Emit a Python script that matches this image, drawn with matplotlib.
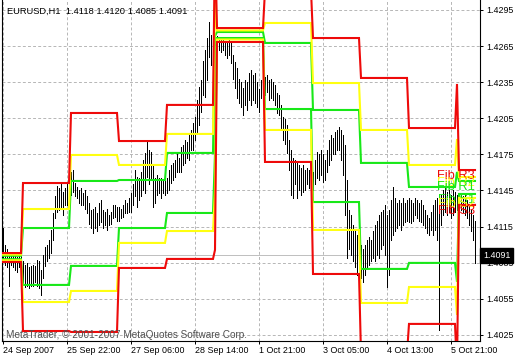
import numpy as np
import matplotlib
matplotlib.use("Agg")
import matplotlib.pyplot as plt
import matplotlib.transforms as mtransforms

plt.rcParams["font.family"] = ["Liberation Sans", "DejaVu Sans"]

# EURUSD H1 bars, first bar 24 Sep 2007 14:00 (highs / lows)
bar_high = [
    1.4114, 1.4100, 1.4096, 1.4091, 1.4091, 1.4091, 1.4091, 1.4090, 1.4091, 1.4091,
    1.4086, 1.4083, 1.4085, 1.4081, 1.4082, 1.4083, 1.4082, 1.4087, 1.4086, 1.4079, 1.4091, 1.4098,
    1.4100, 1.4104, 1.4112, 1.4126, 1.4140, 1.4149, 1.4147, 1.4150, 1.4144, 1.4147, 1.4150, 1.4154,
    1.4160, 1.4162, 1.4151, 1.4148, 1.4145, 1.4147, 1.4143, 1.4145, 1.4140, 1.4135, 1.4129, 1.4130,
    1.4131, 1.4126, 1.4135, 1.4137, 1.4129, 1.4127, 1.4130, 1.4125, 1.4127, 1.4133, 1.4133, 1.4131,
    1.4131, 1.4130, 1.4133, 1.4137, 1.4135, 1.4139, 1.4143, 1.4150, 1.4162, 1.4156, 1.4155, 1.4160,
    1.4170, 1.4176, 1.4187, 1.4179, 1.4177, 1.4166, 1.4155, 1.4158, 1.4155, 1.4155, 1.4154, 1.4154,
    1.4155, 1.4162, 1.4166, 1.4168, 1.4170, 1.4176, 1.4172, 1.4181, 1.4183, 1.4187, 1.4185, 1.4193,
    1.4195, 1.4201, 1.4206, 1.4220, 1.4231, 1.4237, 1.4253, 1.4262, 1.4272, 1.4285, 1.4274, 1.4276,
    1.4274,
    1.4273, 1.4272, 1.4270, 1.4272, 1.4268, 1.4268, 1.4270, 1.4268, 1.4258, 1.4252, 1.4247, 1.4238,
    1.4235, 1.4230, 1.4237, 1.4235, 1.4243, 1.4245, 1.4241, 1.4243, 1.4235, 1.4229, 1.4237, 1.4238,
    1.4239, 1.4241, 1.4237, 1.4238, 1.4235, 1.4233, 1.4226, 1.4224, 1.4216, 1.4206, 1.4204, 1.4199,
    1.4187, 1.4179, 1.4172, 1.4170, 1.4168, 1.4166, 1.4164, 1.4166, 1.4162, 1.4164, 1.4162, 1.4158,
    1.4160, 1.4170, 1.4177, 1.4175, 1.4179, 1.4175, 1.4170, 1.4179, 1.4187, 1.4191, 1.4189, 1.4194,
    1.4195, 1.4198, 1.4195, 1.4191, 1.4183, 1.4154, 1.4129, 1.4125, 1.4116, 1.4112, 1.4108, 1.4100,
    1.4100, 1.4096, 1.4100, 1.4104, 1.4106, 1.4104, 1.4111, 1.4116, 1.4120, 1.4125, 1.4127, 1.4129,
    1.4133, 1.4125, 1.4129, 1.4137, 1.4148, 1.4139, 1.4135, 1.4137, 1.4135, 1.4139, 1.4135, 1.4137,
    1.4139, 1.4137, 1.4135, 1.4139, 1.4137, 1.4135, 1.4137, 1.4133, 1.4129, 1.4125, 1.4122, 1.4127,
    1.4133, 1.4137, 1.4139, 1.4137, 1.4141, 1.4145, 1.4147, 1.4144, 1.4145, 1.4141, 1.4145, 1.4144,
    1.4141,
    1.4143, 1.4141, 1.4140, 1.4141, 1.4137, 1.4133, 1.4129, 1.4125, 1.4120,
]
bar_low = [
    1.4086, 1.4083, 1.4081, 1.4066, 1.4083, 1.4081, 1.4079, 1.4077, 1.4081, 1.4075,
    1.4069, 1.4065, 1.4066, 1.4064, 1.4066, 1.4066, 1.4069, 1.4066, 1.4064, 1.4058, 1.4072, 1.4082,
    1.4086, 1.4089, 1.4093, 1.4104, 1.4122, 1.4127, 1.4129, 1.4131, 1.4125, 1.4133, 1.4133, 1.4133,
    1.4141, 1.4144, 1.4140, 1.4139, 1.4135, 1.4133, 1.4133, 1.4130, 1.4126, 1.4117, 1.4114, 1.4110,
    1.4114, 1.4111, 1.4116, 1.4119, 1.4114, 1.4116, 1.4112, 1.4116, 1.4117, 1.4122, 1.4123, 1.4120,
    1.4120, 1.4122, 1.4123, 1.4126, 1.4126, 1.4127, 1.4127, 1.4133, 1.4140, 1.4131, 1.4137, 1.4140,
    1.4145, 1.4143, 1.4156, 1.4150, 1.4155, 1.4131, 1.4135, 1.4141, 1.4143, 1.4139, 1.4143, 1.4141,
    1.4143, 1.4145, 1.4151, 1.4154, 1.4156, 1.4160, 1.4160, 1.4160, 1.4166, 1.4168, 1.4172, 1.4170,
    1.4179, 1.4179, 1.4187, 1.4193, 1.4199, 1.4210, 1.4224, 1.4223, 1.4237, 1.4256, 1.4249, 1.4258,
    1.4266,
    1.4262, 1.4262, 1.4260, 1.4262, 1.4258, 1.4255, 1.4258, 1.4251, 1.4238, 1.4230, 1.4222, 1.4218,
    1.4214, 1.4208, 1.4216, 1.4212, 1.4220, 1.4216, 1.4220, 1.4218, 1.4214, 1.4210, 1.4222, 1.4220,
    1.4224, 1.4227, 1.4220, 1.4222, 1.4220, 1.4216, 1.4209, 1.4208, 1.4195, 1.4187, 1.4184, 1.4176,
    1.4162, 1.4141, 1.4139, 1.4150, 1.4139, 1.4145, 1.4141, 1.4144, 1.4145, 1.4150, 1.4147, 1.4150,
    1.4145, 1.4150, 1.4155, 1.4154, 1.4158, 1.4152, 1.4154, 1.4160, 1.4166, 1.4170, 1.4175, 1.4175,
    1.4179, 1.4179, 1.4170, 1.4158, 1.4125, 1.4089, 1.4096, 1.4091, 1.4086, 1.4081, 1.4075, 1.4081,
    1.4072, 1.4069, 1.4075, 1.4081, 1.4083, 1.4086, 1.4089, 1.4086, 1.4091, 1.4089, 1.4096, 1.4100,
    1.4091, 1.4065, 1.4075, 1.4104, 1.4108, 1.4111, 1.4114, 1.4116, 1.4112, 1.4116, 1.4119, 1.4120,
    1.4119, 1.4118, 1.4120, 1.4125, 1.4122, 1.4120, 1.4119, 1.4116, 1.4114, 1.4110, 1.4108, 1.4112,
    1.4108, 1.4112, 1.4104, 1.4029, 1.4116, 1.4125, 1.4127, 1.4125, 1.4127, 1.4122, 1.4125, 1.4127,
    1.4129,
    1.4130, 1.4129, 1.4127, 1.4125, 1.4122, 1.4116, 1.4111, 1.4104, 1.4085,
]

# Fib pivot levels, one value per session (sunday sessions are single bars)
day_len = [10, 24, 24, 24, 24, 1, 24, 24, 24, 24, 24, 1, 9]
fib_r3 = [1.40930, 1.41512, 1.42094, 1.41861, 1.42161, 1.43532, 1.42800,
          1.43116, 1.42717, 1.42385, 1.41969, 1.42335, 1.41620]
fib_r2 = [1.40917, 1.41296, 1.41745, 1.41662, 1.41920, 1.43041, 1.42780,
          1.42842, 1.42343, 1.41953, 1.41662, 1.41878, 1.41562]
fib_r1 = [1.40907, 1.41138, 1.41529, 1.41537, 1.41762, 1.42734, 1.42767,
          1.42676, 1.42119, 1.41679, 1.41479, 1.41604, 1.41529]
fib_s1 = [1.40879, 1.40665, 1.40823, 1.41138, 1.41263, 1.41753, 1.42717,
          1.42127, 1.41354, 1.40798, 1.40848, 1.40690, 1.41421]
fib_s2 = [1.40870, 1.40523, 1.40615, 1.41014, 1.41113, 1.41446, 1.42705,
          1.41953, 1.41122, 1.40515, 1.40648, 1.40415, 1.41388]
fib_s3 = [1.40856, 1.40282, 1.40274, 1.40806, 1.40881, 1.40956, 1.42684,
          1.41687, 1.40756, 1.40091, 1.40341, 1.39958, 1.41330]

time_ticks = [0, 32, 64, 96, 128, 160, 192, 224]
time_labels = ["24 Sep 2007", "25 Sep 22:00", "27 Sep 06:00", "28 Sep 14:00",
               "1 Oct 21:00", "3 Oct 05:00", "4 Oct 13:00", "5 Oct 21:00"]
price_ticks = [1.4025, 1.4055, 1.4085, 1.4115, 1.4145, 1.4175, 1.4205, 1.4235, 1.4265, 1.4295]
last_ohlc = [1.4118, 1.4120, 1.4085, 1.4091]

RED = "#ee0a0a"
YELLOW = "#ffff10"
GREEN = "#18e818"
FS = 6.4

fig = plt.figure(figsize=(5.2, 3.6), dpi=100)
ax = fig.add_axes([2 / 520, 19 / 360, 478 / 520, 341 / 360])
ax.set_xlim(-0.5, 238.5)
ax.set_ylim(1.40199, 1.43033)

# grid
for t in time_ticks:
    ax.axvline(t, color="#b8b8b8", lw=0.72, dashes=(2.9, 2.2), zorder=0)
for p in price_ticks:
    ax.axhline(p, color="#b8b8b8", lw=0.72, dashes=(2.9, 2.2), zorder=0)

# bid line
ax.axhline(last_ohlc[3], color="#c0c0c0", lw=0.72, zorder=0.5)

# bars, 1px wide
idx = np.arange(len(bar_high))
ax.vlines(idx, bar_low, bar_high, color="black", lw=0.45, antialiased=False, zorder=2)

# pivot lines
for lev, col in [(fib_s1, GREEN), (fib_r1, GREEN), (fib_s2, YELLOW), (fib_r2, YELLOW),
                 (fib_s3, RED), (fib_r3, RED)]:
    ax.plot(idx, np.repeat(lev, day_len), color=col, lw=1.5, zorder=3,
            solid_joinstyle="miter")

# labels of the last session (they pile up like in the terminal)
for name, lev, col in [("Fib R3", fib_r3, RED), ("Fib R2", fib_r2, YELLOW),
                       ("Fib R1", fib_r1, GREEN), ("Fib S1", fib_s1, GREEN),
                       ("Fib S2", fib_s2, YELLOW), ("Fib S3", fib_s3, RED)]:
    ax.text(236, lev[-1], name, color=col, fontsize=9.3, ha="right", va="top", zorder=4)

# axes look
for s in ["left", "right", "bottom"]:
    ax.spines[s].set_color("black")
    ax.spines[s].set_linewidth(0.8)
ax.spines["top"].set_visible(False)

ax.yaxis.tick_right()
ax.set_yticks(price_ticks)
ax.set_yticklabels(["%.4f" % p for p in price_ticks])
ax.tick_params(axis="y", direction="out", length=2.2, width=0.72, pad=2.5, labelsize=FS)
ax.set_xticks(time_ticks)
ax.set_xticklabels(time_labels, ha="left")
ax.tick_params(axis="x", direction="out", length=2.2, width=0.72, pad=1.5, labelsize=FS)

# current price box
trans = mtransforms.blended_transform_factory(ax.transAxes, ax.transData)
ax.text(1.006, last_ohlc[3], "%.4f" % last_ohlc[3], transform=trans, color="white",
        fontsize=FS, ha="left", va="center", zorder=6, clip_on=False,
        bbox=dict(facecolor="black", edgecolor="black", boxstyle="square,pad=0.3"))

# header and copyright
ax.text(0.0105, 0.968, "EURUSD,H1  " + " ".join("%.4f" % v for v in last_ohlc),
        transform=ax.transAxes, fontsize=6.7, ha="left", va="center", zorder=5)
ax.text(0.0085, 0.018, "MetaTrader, \u00a9 2001-2007 MetaQuotes Software Corp.",
        transform=ax.transAxes, fontsize=7.2, color="#505050", ha="left", va="center", zorder=5)

fig.savefig("out.png", dpi=100)
